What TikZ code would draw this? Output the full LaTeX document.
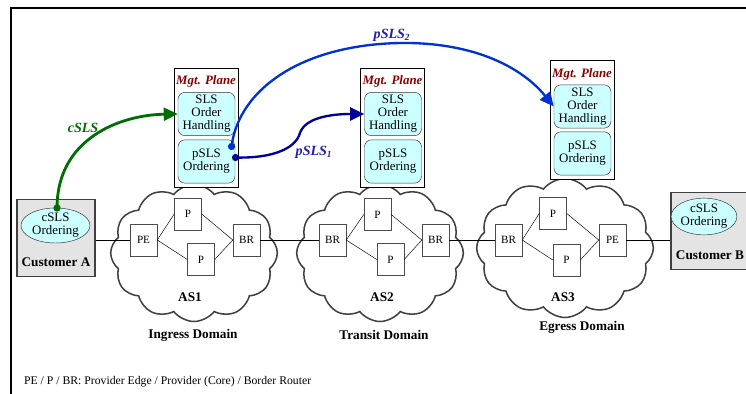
\documentclass[tikz,border=0pt]{standalone}
\usepackage{fontspec}
\setmainfont{Liberation Serif}
\usepackage{tikz}
\usetikzlibrary{arrows.meta}
\usetikzlibrary{shapes}

\definecolor{slsfill}{RGB}{204,255,255}
\definecolor{mgtred}{RGB}{140,0,0}
\definecolor{cgreen}{RGB}{0,110,0}
\definecolor{pnavy}{RGB}{0,0,150}
\definecolor{pblue}{RGB}{0,50,210}
\definecolor{lblblue}{RGB}{30,30,170}
\definecolor{custgray}{RGB}{228,228,228}

\tikzset{
  router/.style={draw=black!70, fill=white, minimum width=.81cm, minimum height=.96cm,
    inner sep=0pt, font=\fontsize{9.5}{10}\selectfont},
  plane/.style={draw, fill=white, minimum width=1.92cm, minimum height=3.57cm, inner sep=0pt},
  planelbl/.style={text=mgtred, font=\fontsize{11}{11}\selectfont\bfseries\itshape},
  orderbox/.style={draw=black!80, fill=slsfill, rounded corners=6pt, minimum width=1.71cm,
    minimum height=1.3cm, inner sep=0pt, align=center, font=\fontsize{11}{11}\selectfont},
  custbox/.style={draw=black!75, fill=custgray, line width=.9pt, minimum width=2.34cm,
    minimum height=2.3cm, inner sep=0pt},
  custoval/.style={ellipse, draw=black!80, fill=slsfill, inner sep=0pt, align=center,
    font=\fontsize{11}{11}\selectfont},
  ascloud/.style={cloud, cloud puffs=12, cloud puff arc=105, draw=black!75, line width=1.3pt},
  boldlbl/.style={font=\fontsize{11.3}{11}\selectfont\bfseries},
  flowlbl/.style={font=\fontsize{12}{12}\selectfont\bfseries\itshape},
  flow/.style={line width=2pt, {Circle[length=6pt]}-{Triangle[length=12pt,width=11pt]}},
}

\begin{document}
\begin{tikzpicture}[x=0.03cm, y=-0.03cm]
    \useasboundingbox (0,0) rectangle (746,394);

    % frame
    \draw [line width=1.6pt] (746,8) -- (11,8) -- (11,394);

    % domains
    \node [ascloud, minimum width=5.0cm, minimum height=4.11cm] (as1) at (194,253) {};
    \node [ascloud, minimum width=5.0cm, minimum height=4.11cm] (as2) at (380,253) {};
    \node [ascloud, minimum width=5.3cm, minimum height=4.17cm] (as3) at (565,248) {};
    \node [boldlbl] (as1lbl) at (190,297) {AS1};
    \node [boldlbl] (as2lbl) at (382,297) {AS2};
    \node [boldlbl] (as3lbl) at (563,297) {AS3};
    \node [boldlbl] (ingress) at (193,335) {Ingress Domain};
    \node [boldlbl] (transit) at (384,335) {Transit Domain};
    \node [boldlbl] (egress) at (582,327) {Egress Domain};

    % customer A
    \node [custbox] (custa) at (56,238) {};
    \node [custoval, minimum width=2.07cm, minimum height=1.05cm] (orda) at (55.5,225.5) {cSLS\\Ordering};
    \node [boldlbl] (custalbl) at (56,262) {Customer A};

    % customer B
    \node [custbox] (custb) at (710,231) {};
    \node [custoval, minimum width=1.74cm, minimum height=1.1cm] (ordb) at (704,216.5) {cSLS\\Ordering};
    \node [boldlbl] (custblbl) at (710,255) {Customer B};

    % AS1 routers
    \node [router] (pe1) at (143.5,240) {PE};
    \node [router] (p1a) at (188,214) {P};
    \node [router] (p1b) at (201,259.5) {P};
    \node [router] (br1) at (246.5,240) {BR};
    \draw (pe1.east) -- (p1a.west);
    \draw (pe1.east) -- (p1b.west);
    \draw (p1a.east) -- (br1.west);
    \draw (p1b.east) -- (br1.west);

    % AS2 routers
    \node [router] (br2a) at (332.5,240) {BR};
    \node [router] (p2a) at (377.5,214.5) {P};
    \node [router] (p2b) at (390.5,259.5) {P};
    \node [router] (br2b) at (435.5,240) {BR};
    \draw (br2a.east) -- (p2a.west);
    \draw (br2a.east) -- (p2b.west);
    \draw (p2a.east) -- (br2b.west);
    \draw (p2b.east) -- (br2b.west);

    % AS3 routers
    \node [router] (br3) at (508.5,240) {BR};
    \node [router] (p3a) at (553,213.5) {P};
    \node [router] (p3b) at (566.5,260) {P};
    \node [router] (pe3) at (612.5,240) {PE};
    \draw (br3.east) -- (p3a.west);
    \draw (br3.east) -- (p3b.west);
    \draw (p3a.east) -- (pe3.west);
    \draw (p3b.east) -- (pe3.west);

    % links between domains
    \draw (custa.east |- pe1) -- (pe1.west);
    \draw (br1.east) -- (br2a.west);
    \draw (br2b.east) -- (br3.west);
    \draw (pe3.east) -- (pe3.east -| custb.west);

    % management planes
    \node [plane] (mgta) at (206,127.5) {};
    \node [planelbl] (mgtalbl) at (206,81) {Mgt. Plane};
    \node [orderbox] (slsa) at (206.5,114) {SLS\\Order\\Handling};
    \node [orderbox] (psa) at (206.5,161.5) {pSLS\\Ordering};

    \node [plane] (mgtb) at (392.5,127.5) {};
    \node [planelbl] (mgtblbl) at (392.5,81) {Mgt. Plane};
    \node [orderbox] (slsb) at (393,114) {SLS\\Order\\Handling};
    \node [orderbox] (psb) at (393,161.5) {pSLS\\Ordering};

    \node [plane] (mgtc) at (582,120) {};
    \node [planelbl] (mgtclbl) at (582,74) {Mgt. Plane};
    \node [orderbox] (slsc) at (582.5,106.5) {SLS\\Order\\Handling};
    \node [orderbox] (psc) at (582.5,153.5) {pSLS\\Ordering};

    % cSLS: customer A -> ingress
    \coordinate (cout) at (57,211.5);
    \draw [flow, cgreen, line width=2.4pt] (cout) .. controls (58,140) and (118,115) .. (slsa.west);
    \node [flowlbl, text=cgreen] (cslslbl) at (83,128) {cSLS};

    % pSLS1: ingress -> transit
    \coordinate (p1out) at (232,157.5);
    \draw [flow, pnavy] (p1out) .. controls (270,158) and (295,150) .. (300,133)
        .. controls (305,118) and (330,114) .. (slsb.west);
    \node [flowlbl, text=lblblue] (psls1lbl) at (314,152) {pSLS\textsubscript{1}};

    % pSLS2: ingress -> egress
    \coordinate (p2out) at (231,150);
    \draw [flow, pblue] (p2out) .. controls (240,90) and (300,45) .. (400,43)
        .. controls (470,42) and (520,65) .. (slsc.west);
    \node [flowlbl, text=lblblue] (psls2lbl) at (392,35) {pSLS\textsubscript{2}};

    % legend
    \node [anchor=west, font=\fontsize{10}{10}\selectfont] (legend) at (20,382)
        {PE / P / BR: Provider Edge / Provider (Core) / Border Router};
\end{tikzpicture}
\end{document}
